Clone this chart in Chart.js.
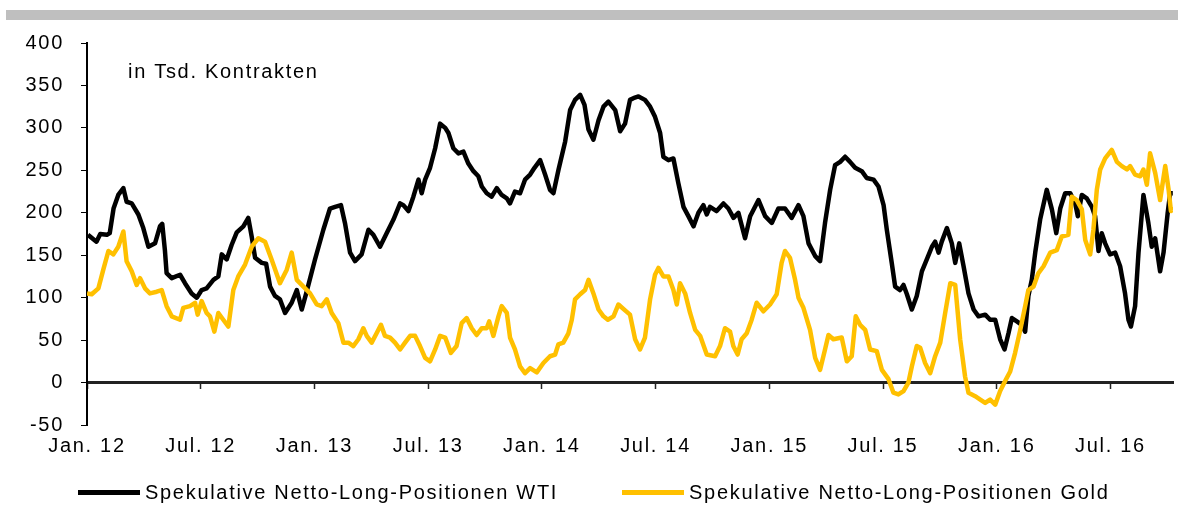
<!DOCTYPE html>
<html>
<head>
<meta charset="utf-8">
<script src="https://cdn.jsdelivr.net/npm/chart.js@4.4.1/dist/chart.umd.min.js"></script>
<style>
    body { margin: 0; background: #fff; }
    #wrap { position: relative; width: 1178px; height: 506px; font-family: "Liberation Sans", Arial, sans-serif; }
    #chart { position: absolute; left: 0; top: 0; }
    #topbar { position: absolute; left: 6px; right: 0; top: 10px; height: 10px; background: #bfbfbf; }
    #legend { position: absolute; left: 78px; top: 481px; display: flex; align-items: center; font-size: 20px; letter-spacing: 1.7px; color: #000; }
    .item { display: flex; align-items: center; margin-right: 64px; }
    .swatch { width: 62px; height: 5px; margin-right: 5px; }
</style>
</head>
<body>
<div id="wrap">
    <div id="topbar"></div>
    <canvas id="chart" width="1178" height="506"></canvas>
    <div id="legend"></div>
</div>
<script>
// x = months since Jan 2012, y = thousand contracts
const wtiPoints = [
    [0.05,174],[0.5,166],[0.7,175],[1.05,174],[1.2,176],[1.4,205],[1.65,221],[1.92,229],[2.09,213],[2.36,211],
    [2.71,198],[2.97,182],[3.24,160],[3.59,164],[3.85,184],[3.97,187],[4.11,156],[4.2,129],[4.47,123],[4.91,127],
    [5.17,117],[5.52,105],[5.79,100],[6.05,109],[6.31,111],[6.67,121],[6.93,125],[7.11,151],[7.37,145],[7.63,162],
    [7.9,177],[8.25,184],[8.51,194],[8.69,172],[8.87,147],[9.22,141],[9.45,140],[9.66,113],[9.92,102],[10.18,98],
    [10.45,82],[10.8,94],[11.07,109],[11.33,86],[11.59,107],[12.03,145],[12.47,180],[12.82,205],[13.09,207],[13.4,209],
    [13.61,188],[13.88,153],[14.14,143],[14.49,151],[14.85,180],[15.11,174],[15.46,160],[15.81,176],[16.17,192],[16.52,211],
    [16.69,209],[16.96,202],[17.22,219],[17.49,239],[17.66,223],[17.84,239],[18.1,253],[18.37,276],[18.63,305],[18.9,300],
    [19.07,294],[19.33,276],[19.6,270],[19.86,272],[20.12,258],[20.39,249],[20.65,243],[20.83,231],[21.09,223],[21.35,219],
    [21.62,229],[21.88,221],[22.15,217],[22.32,211],[22.58,225],[22.85,223],[23.11,239],[23.38,245],[23.61,253],[23.91,262],
    [24.17,245],[24.43,227],[24.61,223],[24.88,251],[25.23,284],[25.49,321],[25.75,333],[26.02,339],[26.25,327],[26.46,298],
    [26.72,286],[26.99,309],[27.25,325],[27.51,331],[27.87,321],[28.13,296],[28.39,305],[28.65,333],[28.83,335],[29.1,337],
    [29.44,333],[29.71,325],[29.97,313],[30.24,294],[30.41,266],[30.68,262],[30.94,264],[31.2,235],[31.47,207],[31.73,196],
    [32.0,184],[32.26,200],[32.52,209],[32.7,198],[32.87,207],[33.22,202],[33.58,211],[33.84,205],[34.11,194],[34.37,200],
    [34.72,170],[34.99,196],[35.43,215],[35.78,196],[36.13,188],[36.48,205],[36.83,205],[37.18,194],[37.54,209],[37.8,196],
    [38.07,164],[38.42,149],[38.68,143],[38.94,188],[39.21,227],[39.47,256],[39.74,260],[40.0,266],[40.26,260],[40.53,253],
    [40.88,249],[41.14,241],[41.5,239],[41.76,231],[42.03,209],[42.2,180],[42.46,141],[42.64,113],[42.9,109],[43.08,115],
    [43.26,104],[43.52,86],[43.78,102],[44.05,131],[44.31,145],[44.58,160],[44.75,166],[44.93,153],[45.1,166],[45.37,182],
    [45.63,164],[45.81,141],[46.02,164],[46.25,137],[46.51,105],[46.78,86],[47.04,78],[47.39,80],[47.65,74],[47.92,74],
    [48.18,51],[48.41,39],[48.62,58],[48.8,76],[49.06,72],[49.32,68],[49.5,60],[49.67,102],[49.85,121],[50.03,153],
    [50.29,192],[50.64,227],[50.91,204],[51.14,176],[51.35,205],[51.61,223],[51.88,223],[52.14,211],[52.28,196],[52.49,221],
    [52.75,217],[53.02,207],[53.19,196],[53.37,155],[53.54,176],[53.72,164],[53.98,151],[54.25,153],[54.51,137],[54.77,105],
    [54.95,74],[55.08,66],[55.3,90],[55.48,153],[55.74,221],[56.0,188],[56.18,160],[56.36,170],[56.62,131],[56.8,153],
    [57.02,200],[57.15,223],[57.29,223]
];
const goldPoints = [
    [0.0,105],[0.25,104],[0.6,111],[0.86,133],[1.13,155],[1.39,151],[1.65,160],[1.92,178],[2.09,143],[2.36,131],
    [2.62,115],[2.8,123],[3.06,111],[3.32,105],[3.68,107],[3.94,109],[4.2,90],[4.47,78],[4.91,74],[5.08,88],
    [5.43,90],[5.7,94],[5.84,80],[6.05,96],[6.31,82],[6.49,78],[6.72,60],[6.93,82],[7.19,74],[7.46,66],
    [7.72,109],[7.98,125],[8.34,139],[8.69,160],[9.04,170],[9.39,166],[9.74,145],[10.18,117],[10.54,133],[10.8,153],
    [11.07,121],[11.42,113],[11.77,105],[12.12,92],[12.38,90],[12.65,98],[12.91,82],[13.26,70],[13.53,47],[13.79,47],
    [14.05,43],[14.32,51],[14.58,64],[14.76,55],[15.02,47],[15.28,58],[15.51,68],[15.72,55],[15.99,53],[16.25,47],
    [16.52,39],[16.78,47],[17.05,55],[17.31,55],[17.57,43],[17.84,29],[18.1,25],[18.37,39],[18.63,55],[18.9,53],
    [19.2,35],[19.5,43],[19.77,70],[20.03,76],[20.3,64],[20.56,56],[20.83,64],[21.09,64],[21.22,72],[21.44,55],
    [21.71,78],[21.88,90],[22.15,82],[22.32,53],[22.58,39],[22.85,19],[23.11,11],[23.38,17],[23.73,12],[24.08,23],
    [24.43,31],[24.7,33],[24.87,45],[25.13,47],[25.4,58],[25.58,74],[25.75,98],[26.02,104],[26.28,109],[26.46,121],
    [26.72,105],[26.99,86],[27.25,78],[27.48,74],[27.78,78],[28.04,92],[28.39,85],[28.65,80],[28.92,51],[29.18,39],
    [29.44,53],[29.71,98],[29.97,127],[30.15,135],[30.41,125],[30.68,125],[30.94,109],[31.12,92],[31.29,117],[31.56,105],
    [31.82,82],[32.09,62],[32.35,55],[32.7,33],[33.14,31],[33.4,43],[33.66,64],[33.93,60],[34.1,43],[34.33,33],
    [34.54,51],[34.81,58],[35.07,74],[35.33,94],[35.69,84],[36.04,92],[36.39,104],[36.65,141],[36.83,155],[37.09,147],
    [37.36,121],[37.54,100],[37.8,88],[38.15,62],[38.42,29],[38.68,15],[38.94,39],[39.12,56],[39.38,51],[39.82,53],
    [40.09,25],[40.35,31],[40.56,78],[40.79,68],[41.06,62],[41.32,39],[41.67,37],[41.94,15],[42.29,4],[42.55,-12],
    [42.81,-14],[43.08,-10],[43.34,0],[43.52,19],[43.78,43],[43.96,41],[44.22,23],[44.49,11],[44.75,31],[45.02,47],
    [45.28,82],[45.55,117],[45.81,115],[46.07,51],[46.33,7],[46.51,-12],[46.86,-16],[47.13,-20],[47.39,-24],[47.65,-20],
    [47.92,-26],[48.18,-10],[48.45,2],[48.71,13],[48.97,35],[49.24,62],[49.5,90],[49.67,109],[49.94,113],[50.2,129],
    [50.47,137],[50.82,153],[51.17,156],[51.43,172],[51.78,174],[51.96,219],[52.22,215],[52.49,204],[52.67,168],[52.93,151],
    [53.1,180],[53.28,227],[53.46,251],[53.72,264],[54.07,274],[54.34,260],[54.6,255],[54.87,251],[55.04,255],[55.3,245],
    [55.57,243],[55.74,251],[55.92,233],[56.09,270],[56.36,247],[56.62,215],[56.89,255],[57.07,227],[57.19,202],[57.29,207]
];
const tickMonths = [0, 6, 12, 18, 24, 30, 36, 42, 48, 54];
const tickLabels = ["Jan. 12", "Jul. 12", "Jan. 13", "Jul. 13", "Jan. 14", "Jul. 14",
    "Jan. 15", "Jul. 15", "Jan. 16", "Jul. 16"];
const seriesNames = ["Spekulative Netto-Long-Positionen WTI", "Spekulative Netto-Long-Positionen Gold"];
const seriesColors = ["#000000", "#FFC000"];
const unitNote = "in Tsd. Kontrakten";

const font = { family: '"Liberation Sans", Arial, sans-serif', size: 20 };
const toXY = pts => pts.map(p => ({ x: p[0], y: p[1] }));
const halfYearTicks = scale => { scale.ticks = tickMonths.map(v => ({ value: v })); };

// wider letters, the source picture is a bit stretched
const spacing = {
    id: 'spacing',
    beforeLayout(chart) { chart.ctx.letterSpacing = '1.7px'; },
    beforeDraw(chart) { chart.ctx.letterSpacing = '1.7px'; }
};

const unitNotePlugin = {
    id: 'unitNote',
    afterDraw(chart) {
        const ctx = chart.ctx;
        ctx.save();
        ctx.font = '20px "Liberation Sans", Arial, sans-serif';
        ctx.fillStyle = '#000';
        ctx.textBaseline = 'middle';
        ctx.fillText(unitNote, chart.chartArea.left + 41, chart.scales.y.getPixelForValue(365));
        ctx.restore();
    }
};

const chart = new Chart(document.getElementById('chart'), {
    type: 'line',
    data: {
        datasets: [{
            label: seriesNames[0],
            data: toXY(wtiPoints),
            borderColor: seriesColors[0],
            borderWidth: 4.5,
            pointRadius: 0,
            tension: 0,
            borderJoinStyle: 'round',
            order: 2
        }, {
            label: seriesNames[1],
            data: toXY(goldPoints),
            borderColor: seriesColors[1],
            borderWidth: 4.5,
            pointRadius: 0,
            tension: 0,
            borderJoinStyle: 'round',
            order: 1
        }]
    },
    options: {
        responsive: false,
        animation: false,
        devicePixelRatio: 1,
        layout: { padding: { top: 43, right: 5, bottom: 36, left: 0 } },
        scales: {
            // axis line crossing at zero, only small tick marks
            x: {
                type: 'linear',
                min: 0,
                max: 57.3,
                position: { y: 0 },
                border: { display: true, color: '#222222', width: 3 },
                grid: { drawOnChartArea: false, tickColor: '#222222', tickLength: 5, tickWidth: 1.5 },
                afterBuildTicks: halfYearTicks,
                ticks: { display: false, autoSkip: false }
            },
            // labels along the bottom
            xLabels: {
                type: 'linear',
                axis: 'x',
                position: 'bottom',
                min: 0,
                max: 57.3,
                grid: { display: false, drawTicks: false },
                border: { display: false },
                afterBuildTicks: halfYearTicks,
                afterFit: scale => { scale.height = 45; },
                ticks: {
                    autoSkip: false,
                    maxRotation: 0,
                    padding: 9,
                    color: '#000',
                    font: font,
                    callback: (v, i) => tickLabels[i]
                }
            },
            y: {
                min: -50,
                max: 400,
                afterFit: scale => { scale.width = 87; },
                border: { display: true, color: '#000', width: 2 },
                grid: {
                    drawOnChartArea: false,
                    tickColor: '#000',
                    tickLength: 6
                },
                ticks: {
                    stepSize: 50,
                    padding: 17,
                    color: '#000',
                    font: font
                }
            }
        },
        plugins: {
            legend: { display: false },
            tooltip: { enabled: false }
        }
    },
    plugins: [spacing, unitNotePlugin]
});

const legendBox = document.getElementById('legend');
chart.data.datasets.forEach(ds => {
    const item = document.createElement('div');
    item.className = 'item';
    const sw = document.createElement('span');
    sw.className = 'swatch';
    sw.style.background = ds.borderColor;
    const txt = document.createElement('span');
    txt.textContent = ds.label;
    item.appendChild(sw);
    item.appendChild(txt);
    legendBox.appendChild(item);
});
</script>
</body>
</html>
